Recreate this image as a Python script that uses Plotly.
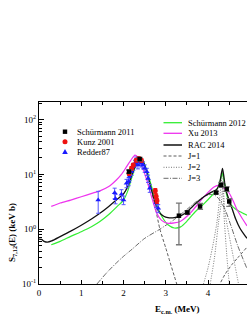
import plotly.graph_objects as go

# ---------------- data ----------------
# RAC 2014 (black solid)
rac_E = [0.0, 0.06, 0.12, 0.2, 0.3, 0.5, 0.75, 1.0, 1.25, 1.44, 1.65, 1.85, 2.0, 2.1, 2.2, 2.3, 2.37,
         2.45, 2.55, 2.65, 2.75, 2.85, 2.95, 3.05, 3.2, 3.35, 3.5, 3.7, 3.9, 4.05, 4.15, 4.22, 4.28,
         4.31, 4.34, 4.37, 4.41, 4.47, 4.55, 4.65, 4.75, 4.85, 4.92]
rac_S = [0.66, 0.65, 0.6, 0.58, 0.61, 0.73, 0.92, 1.18, 1.55, 1.95, 2.6, 3.5, 4.4, 6.0, 10.0, 16.0, 20.0,
         18.0, 11.0, 5.6, 3.0, 2.0, 1.72, 1.62, 1.62, 1.75, 2.08, 2.9, 3.9, 4.6, 5.0, 5.5, 7.2,
         10.0, 12.9, 9.5, 5.6, 3.9, 2.6, 1.55, 1.05, 0.8, 0.68]

# Schürmann 2012 (green)
s12_E = [0.29, 0.5, 0.75, 1.0, 1.25, 1.44, 1.65, 1.85, 2.0, 2.1, 2.2, 2.3, 2.38, 2.45, 2.55, 2.65,
         2.75, 2.85, 2.95, 3.05, 3.2, 3.35, 3.5, 3.7, 3.9, 4.1, 4.2, 4.27, 4.31, 4.34, 4.38, 4.44,
         4.5, 4.6, 4.7, 4.8, 4.92]
s12_S = [0.52, 0.6, 0.74, 0.9, 1.12, 1.38, 1.85, 2.6, 3.4, 5.0, 9.0, 15.0, 19.5, 18.0, 12.0, 6.5,
         3.5, 2.1, 1.5, 1.2, 1.05, 1.1, 1.4, 2.1, 2.9, 4.2, 5.2, 7.0, 9.0, 10.4, 7.5, 4.2,
         3.1, 2.5, 2.2, 2.0, 1.8]

# Xu 2013 (magenta)
xu_E = [0.29, 0.5, 0.75, 1.0, 1.25, 1.44, 1.65, 1.83, 1.95, 2.05, 2.17, 2.27, 2.35, 2.45, 2.55, 2.65,
        2.78, 2.9, 3.05, 3.2, 3.35, 3.58, 3.89, 4.13, 4.24, 4.32, 4.4, 4.48, 4.6, 4.68, 4.8, 4.92]
xu_S = [2.6, 3.0, 3.4, 3.9, 4.5, 5.0, 6.0, 7.9, 10.0, 13.0, 18.0, 22.5, 20.0, 13.0, 7.9, 4.2,
        2.0, 1.45, 1.28, 1.3, 1.4, 1.97, 3.8, 5.8, 6.3, 6.0, 5.4, 4.8, 3.2, 2.3, 1.6, 1.15]

# J=1 (dashed)
j1_E = [2.0, 2.1, 2.2, 2.3, 2.37, 2.45, 2.55, 2.65, 2.75, 2.86, 3.0, 3.1, 3.2, 3.3, 3.6, 3.9, 4.15,
        4.28, 4.4, 4.55, 4.7, 4.92]
j1_S = [4.4, 6.0, 10.0, 16.0, 20.0, 18.0, 11.0, 5.4, 2.5, 1.0, 0.45, 0.25, 0.14, 0.08, 0.02, 0.02, 0.05,
        0.1, 0.15, 0.22, 0.3, 0.47]

# J=2 (dotted) - two dotted components
j2a_E = [3.89, 4.0, 4.1, 4.2, 4.27, 4.31, 4.34, 4.36, 4.40, 4.5, 4.6, 4.72]
j2a_S = [0.1, 0.2, 0.45, 1.2, 3.4, 7.0, 11.0, 6.0, 2.0, 0.75, 0.3, 0.1]
j2b_E = [4.05, 4.15, 4.25, 4.32, 4.34, 4.38, 4.44, 4.50]
j2b_S = [0.1, 0.3, 1.4, 3.4, 6.0, 1.6, 0.35, 0.1]

# J=3 (dash-dot)
j3_E = [1.37, 1.6, 1.8, 2.0, 2.2, 2.5, 2.86, 3.2, 3.5, 3.7, 3.9, 4.05, 4.15, 4.25, 4.4, 4.55, 4.7, 4.92]
j3_S = [0.1, 0.16, 0.23, 0.32, 0.43, 0.68, 1.0, 1.5, 2.3, 3.1, 3.9, 4.3, 4.2, 3.6, 2.3, 1.1, 0.5, 0.19]

# Schürmann 2011 (black squares)
sch_E = [2.13, 2.38, 3.31, 3.51, 3.81, 4.19, 4.31, 4.44, 4.50]
sch_S = [11.2, 19.0, 1.76, 2.02, 2.6, 4.65, 6.4, 5.4, 3.2]
sch_up = [0.8, 1.3, 1.24, 0.15, 0.35, 0.25, 0.7, 0.5, 0.4]
sch_dn = [0.8, 1.3, 1.24, 0.15, 0.3, 0.25, 0.6, 0.5, 0.6]

# Kunz 2001 (red circles)
kunz_E = [2.13, 2.19, 2.23, 2.30, 2.36, 2.42, 2.75, 2.77, 2.79]
kunz_S = [10.4, 12.9, 14.8, 18.0, 19.4, 18.0, 5.0, 4.0, 3.3]
kunz_err = [0.8, 1.0, 1.1, 1.3, 1.4, 1.3, 0.5, 0.4, 0.35]

# Redder87 (blue triangles)
red_E = [1.40, 1.79, 1.81, 1.95, 2.00, 2.07, 2.12, 2.14, 2.19, 2.23, 2.27, 2.30, 2.34, 2.38, 2.42,
         2.46, 2.50, 2.55, 2.58, 2.62, 2.77, 2.82]
red_S = [3.4, 4.6, 3.6, 4.35, 3.4, 6.9, 7.4, 9.1, 11.2, 13.8, 15.9, 18.2, 14.8, 17.0, 15.9,
         14.8, 12.9, 11.2, 8.4, 5.6, 3.0, 2.4]
red_up = [1.5, 1.0, 0.7, 0.9, 0.6, 1.2, 1.2, 1.4, 1.6, 2.0, 2.2, 2.5, 2.2, 2.4, 2.3,
          2.2, 2.0, 1.7, 1.3, 0.9, 0.5, 0.4]
red_dn = [1.45, 1.0, 0.7, 0.9, 0.6, 1.2, 1.2, 1.4, 1.6, 2.0, 2.2, 2.5, 2.2, 2.4, 2.3,
          2.2, 2.0, 1.7, 1.3, 0.9, 0.5, 0.4]

y_tickvals = [0.1, 1, 10, 100]
y_ticktext = ["10<sup>-1</sup>", "10<sup>0</sup>", "10<sup>1</sup>", "10<sup>2</sup>"]
x_tickvals = [0, 1, 2, 3, 4]

# ---------------- figure ----------------
FONT = "Liberation Serif, Times New Roman, serif"
fig = go.Figure()

def line(x, y, color, width=1.2, dash="solid"):
    fig.add_trace(go.Scatter(x=x, y=y, mode="lines", line=dict(color=color, width=width, dash=dash,
                                                                 shape="spline", smoothing=0.6),
                             showlegend=False, hoverinfo="skip"))

line(j1_E, j1_S, "#333333", 0.8, "3px,2px")
line(j2a_E, j2a_S, "#555555", 0.8, "1px,1.5px")
line(j2b_E, j2b_S, "#555555", 0.8, "1px,1.5px")
line(j3_E, j3_S, "#444444", 0.8, "5px,1.5px,1px,1.5px")
line(s12_E, s12_S, "#33ee33", 1.2)
line(xu_E, xu_S, "#ee33ee", 1.2)
line(rac_E, rac_S, "#111111", 1.3)

fig.add_trace(go.Scatter(x=red_E, y=red_S, mode="markers",
                         marker=dict(symbol="triangle-up", size=5, color="#1a1aff"),
                         error_y=dict(type="data", symmetric=False, array=red_up, arrayminus=red_dn,
                                      color="#5555ff", thickness=1, width=2),
                         showlegend=False, hoverinfo="skip"))
fig.add_trace(go.Scatter(x=kunz_E, y=kunz_S, mode="markers",
                         marker=dict(symbol="circle", size=5, color="#ee1111"),
                         error_y=dict(type="data", array=kunz_err, color="#ee1111", thickness=1, width=2),
                         showlegend=False, hoverinfo="skip"))
fig.add_trace(go.Scatter(x=sch_E, y=sch_S, mode="markers",
                         marker=dict(symbol="square", size=4.5, color="#000000"),
                         error_y=dict(type="data", symmetric=False, array=sch_up, arrayminus=sch_dn,
                                      color="#777777", thickness=1.3, width=3),
                         showlegend=False, hoverinfo="skip"))

# ---------------- layout helpers (pixel -> paper) ----------------
L, R, T, B = 39, 0, 102, 35
W, H = 247, 319
PW, PH = W - L - R, H - T - B

def xp(px):
    return (px - L) / PW

def yp(py):
    return (H - B - py) / PH

shapes = []
annotations = []

# left legend: markers
lx = 65
for (py, kind, color, label) in [(131.7, "square", "#000000", "Schürmann 2011"),
                                 (141.7, "circle", "#ee1111", "Kunz 2001"),
                                 (151.7, "triangle", "#1a1aff", "Redder87")]:
    if kind == "square":
        shapes.append(dict(type="rect", xref="paper", yref="paper", x0=xp(lx - 2.2), x1=xp(lx + 2.2),
                           y0=yp(py + 2.2), y1=yp(py - 2.2), fillcolor=color, line=dict(width=0)))
    elif kind == "circle":
        shapes.append(dict(type="circle", xref="paper", yref="paper", x0=xp(lx - 2.5), x1=xp(lx + 2.5),
                           y0=yp(py + 2.5), y1=yp(py - 2.5), fillcolor=color, line=dict(width=0)))
    else:
        path = "M %f,%f L %f,%f L %f,%f Z" % (xp(lx - 2.8), yp(py + 2.3), xp(lx + 2.8), yp(py + 2.3),
                                              xp(lx), yp(py - 2.6))
        shapes.append(dict(type="path", xref="paper", yref="paper", path=path, fillcolor=color,
                           line=dict(width=0)))
    annotations.append(dict(x=xp(75), y=yp(py), xref="paper", yref="paper", text=label, showarrow=False,
                            xanchor="left", yanchor="middle", font=dict(family=FONT, size=8.5, color="#000")))

# right legend: lines
for (py, color, width, dash, label) in [(122.7, "#33ee33", 1.3, "solid", "Schürmann 2012"),
                                        (133.3, "#ee33ee", 1.3, "solid", "Xu 2013"),
                                        (145.0, "#111111", 1.5, "solid", "RAC 2014"),
                                        (156.0, "#333333", 0.8, "3px,2px", "J=1"),
                                        (167.3, "#555555", 0.8, "1px,1.5px", "J=2"),
                                        (178.3, "#444444", 0.8, "5px,1.5px,1px,1.5px", "J=3")]:
    shapes.append(dict(type="line", xref="paper", yref="paper", x0=xp(163.5), x1=xp(182), y0=yp(py),
                       y1=yp(py), line=dict(color=color, width=width, dash=dash)))
    annotations.append(dict(x=xp(186), y=yp(py), xref="paper", yref="paper", text=label, showarrow=False,
                            xanchor="left", yanchor="middle", font=dict(family=FONT, size=8.5, color="#000")))

# axis titles
annotations.append(dict(x=xp(176.5), y=yp(309), xref="paper", yref="paper",
                        text="<b>E<sub>c.m.</sub> (MeV)</b>", showarrow=False,
                        xanchor="center", yanchor="middle", font=dict(family=FONT, size=9, color="#000")))
annotations.append(dict(x=xp(12), y=yp(232), xref="paper", yref="paper",
                        text="<b>S<sub>7,12</sub>(E) (keV b)</b>", showarrow=False, textangle=-90,
                        xanchor="center", yanchor="middle", font=dict(family=FONT, size=9, color="#000")))

fig.update_layout(
    width=W, height=H,
    margin=dict(l=L, r=R, t=T, b=B, pad=0),
    paper_bgcolor="white", plot_bgcolor="white",
    showlegend=False,
    shapes=shapes, annotations=annotations,
    font=dict(family=FONT, size=9, color="#000"),
    xaxis=dict(range=[0, 4.92], showline=True, linecolor="#000", linewidth=1, mirror="allticks",
               ticks="inside", ticklen=4, tickcolor="#000", tickvals=x_tickvals,
               tickfont=dict(family=FONT, size=9), showgrid=False, zeroline=False,
               minor=dict(ticks="inside", ticklen=3, tickcolor="#000", dtick=0.5, tick0=0, showgrid=False)),
    yaxis=dict(type="log", range=[-1, 2.32], showline=True, linecolor="#000", linewidth=1, mirror=False,
               ticks="inside", ticklen=5, tickcolor="#000", tickvals=y_tickvals, ticktext=y_ticktext,
               tickfont=dict(family=FONT, size=9), showgrid=False, zeroline=False,
               minor=dict(ticks="inside", ticklen=2.5, tickcolor="#000", showgrid=False,
                          tickvals=[0.2, 0.3, 0.4, 0.5, 0.6, 0.7, 0.8, 0.9, 2, 3, 4, 5, 6, 7, 8, 9,
                                    20, 30, 40, 50, 60, 70, 80, 90, 200])),
)

fig.write_html("out.html", config={"displayModeBar": False},
               post_script="document.body.style.margin='0';document.body.style.overflow='hidden';")
